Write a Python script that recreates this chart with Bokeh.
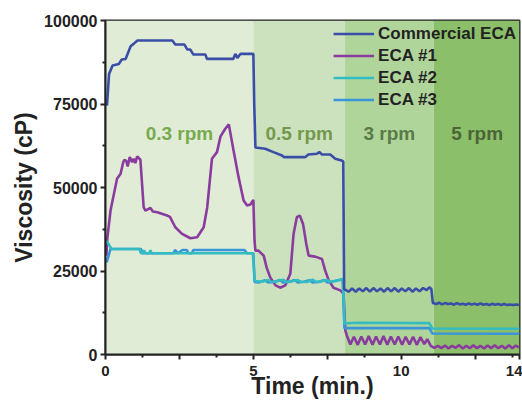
from bokeh.plotting import figure
from bokeh.models import Range1d, FixedTicker, Label
from bokeh.embed import file_html
from bokeh.resources import INLINE

# ---------------- data ----------------
band_left = [0, 5, 8.1, 11.1]
band_right = [5, 8.1, 11.1, 14]
rpm_labels = ["0.3 rpm", "0.5 rpm", "3 rpm", "5 rpm"]
rpm_label_x = [2.5, 6.55, 9.6, 12.57]
rpm_label_y = [66200, 66200, 66200, 66200]

series_names = ["Commercial ECA", "ECA #1", "ECA #2", "ECA #3"]

com_x_a = [0.05, 0.12, 0.24, 0.45, 0.55, 0.68, 0.85, 0.95, 1.08, 2.26, 2.36, 2.67, 2.77, 2.87, 2.97, 3.38, 3.43,
           4.32, 4.39, 4.46, 4.56, 5.0, 5.03, 5.07, 5.4, 5.68, 5.97, 6.03, 6.76, 6.86, 7.15, 7.23, 7.32, 7.6, 7.77,
           7.98, 8.04]
com_y_a = [74500, 84000, 86500, 87000, 88300, 88500, 92300, 93000, 94000, 94000, 92800, 92800, 91300, 91300, 89800,
           89800, 88500, 88500, 90000, 88800, 90000, 90000, 75000, 62000, 61600, 60600, 59600, 59100, 59100, 59900,
           60100, 60600, 59900, 59900, 58600, 58100, 57800]
com_x_b = [8.07, 8.10, 8.22, 8.34, 8.46, 8.58, 8.70, 8.82, 8.94, 9.06, 9.18, 9.30, 9.42, 9.54, 9.66, 9.78, 9.90,
           10.02, 10.14, 10.26, 10.38, 10.50, 10.62, 10.74, 10.86, 10.95, 11.02, 11.07]
com_y_b = [19600, 19400, 18800, 19800, 18800, 19800, 18900, 19900, 18800, 19900, 18900, 19800, 18800, 19900, 18900,
           19900, 18800, 19800, 18900, 19900, 18800, 19800, 18900, 19900, 19300, 20100, 19600, 15400]
com_x_c = [11.18, 11.28, 11.38, 11.48, 11.58, 11.68, 11.78, 11.88, 11.98, 12.08, 12.18, 12.28, 12.38, 12.48, 12.58,
           12.68, 12.78, 12.88, 12.98, 13.08, 13.18, 13.28, 13.38, 13.48, 13.58, 13.68, 13.78, 13.88, 13.98]
com_y_c = [15100, 15500, 15000, 15400, 15100, 15300, 14900, 15400, 15000, 15200, 14900, 15300, 15000, 15200, 14900,
           15300, 14900, 15100, 14800, 15200, 14900, 15100, 14800, 15100, 14800, 15000, 14800, 15000, 14800]

e1_x_a = [0.03, 0.06, 0.17, 0.39, 0.51, 0.6, 0.64, 0.7, 0.75, 0.82, 0.9, 0.95, 1.01, 1.07, 1.18, 1.29, 1.35, 1.52,
          1.6, 1.75, 2.08, 2.18, 2.36, 2.59, 2.87, 3.1, 3.32, 3.44, 3.6, 3.77, 3.89, 4.05, 4.17, 4.33, 4.5, 4.67,
          4.79, 4.9, 5.0, 5.04]
e1_y_a = [29600, 34600, 43100, 52600, 54100, 57600, 58300, 58000, 56300, 59100, 57600, 58600, 57300, 59300, 58300,
          44100, 43100, 43900, 42800, 42600, 41600, 41200, 38100, 36100, 34800, 35100, 38100, 44100, 58600, 60600,
          65300, 67600, 68900, 61100, 53100, 46100, 44600, 44900, 46300, 34000]
e1_x_b = [5.07, 5.17, 5.35, 5.45, 5.57, 5.75, 5.91, 6.08, 6.25, 6.36, 6.47, 6.57, 6.68, 6.79, 6.87, 7.09, 7.32,
          7.43, 7.55, 7.71, 7.94, 8.05, 8.11, 8.16]
e1_y_b = [31100, 31100, 29600, 26000, 23100, 20700, 20000, 20700, 24200, 36100, 41100, 41600, 39100, 33100, 29600,
          29300, 28600, 25100, 22200, 20000, 19200, 18200, 7200, 5700]
e1_x_c = [8.28, 8.40, 8.53, 8.65, 8.78, 8.90, 9.03, 9.15, 9.28, 9.40, 9.53, 9.65, 9.78, 9.90, 10.03, 10.15, 10.28,
          10.40, 10.53, 10.65, 10.78, 10.88, 11.0, 11.12]
e1_y_c = [3000, 5300, 2900, 5400, 3000, 5500, 2900, 5400, 3000, 5500, 2900, 5400, 3000, 5400, 2900, 5300, 3000,
          5300, 2900, 5200, 3100, 4600, 2600, 2000]
e1_x_d = [11.24, 11.36, 11.48, 11.6, 11.72, 11.84, 11.96, 12.08, 12.2, 12.32, 12.44, 12.56, 12.68, 12.8, 12.92,
          13.04, 13.16, 13.28, 13.4, 13.52, 13.64, 13.76, 13.88, 13.98]
e1_y_d = [2600, 1900, 2700, 1800, 2600, 2000, 2800, 1800, 2600, 1900, 2800, 1900, 2600, 1800, 2700, 1900, 2800,
          1900, 2600, 1800, 2800, 1900, 2700, 2100]

e2_x = [0.04, 0.2, 1.15, 1.2, 1.25, 1.3, 1.35, 1.48, 1.52, 1.56, 4.98, 5.05, 5.3, 5.5, 5.6, 5.8, 6.0, 6.1, 6.3,
        6.5, 6.6, 6.8, 7.0, 7.1, 7.3, 7.5, 7.6, 7.8, 7.95, 8.03, 8.08, 8.5, 10.95, 11.05, 14.0]
e2_y = [34000, 31600, 31600, 30300, 30300, 31200, 30300, 30300, 31200, 30300, 30300, 22000, 21800, 22300, 21700,
        21900, 22400, 21800, 21900, 22300, 21800, 21700, 22400, 21800, 21900, 22300, 21800, 22000, 22500, 22600,
        9300, 9500, 9400, 7800, 7700]

e3_x = [0.04, 0.17, 1.2, 1.25, 2.3, 2.35, 2.45, 2.6, 2.75, 2.8, 2.92, 2.97, 4.7, 4.78, 5.0, 5.04, 5.2, 5.4, 5.5,
        5.7, 5.9, 6.0, 6.2, 6.4, 6.5, 6.7, 6.9, 7.0, 7.2, 7.4, 7.5, 7.7, 7.9, 8.02, 8.08, 10.95, 11.05, 14.0]
e3_y = [27600, 31600, 31600, 30300, 30300, 31300, 30300, 31300, 31300, 30300, 30300, 31300, 31300, 30300, 30300,
        21700, 21600, 22200, 21600, 21700, 22300, 21600, 21700, 22300, 21600, 21800, 22200, 21600, 21700, 22300,
        21600, 21900, 22300, 22400, 7900, 7900, 6300, 6200]

x_ticks = [0, 2.5, 5, 7.5, 10, 12.5, 14]
x_tick_labels = {0: "0", 2.5: "", 5: "5", 7.5: "", 10: "10", 12.5: "", 14: "14"}
x_minor = [1.25, 3.75, 6.25, 8.75, 11.25, 13.75]
y_ticks = [0, 25000, 50000, 75000, 100000]
y_minor = [12500, 37500, 62500, 87500]

# ---------------- styles ----------------
FONT = "Liberation Sans"
band_colors = ["#e1ecd7", "#cce2be", "#b0d59b", "#8bbf69"]
rpm_colors = ["#78aa4e", "#74994c", "#5b7a47", "#4b6539"]
line_colors = ["#3a4ea8", "#8a3c9e", "#33bdc0", "#3a95d8"]

p = figure(width=522, height=402, output_backend="svg", toolbar_location=None,
           x_range=Range1d(0, 14), y_range=Range1d(0, 100000),
           min_border_left=105, min_border_right=3, min_border_top=20, min_border_bottom=48)
p.background_fill_color = "white"
p.border_fill_color = "white"
p.xgrid.visible = False
p.ygrid.visible = False
p.outline_line_color = "#222222"
p.outline_line_width = 2

p.quad(left=band_left, right=band_right, bottom=0, top=100000, fill_color=band_colors, line_color=None)

for txt, lx, ly, c in zip(rpm_labels, rpm_label_x, rpm_label_y, rpm_colors):
    p.add_layout(Label(x=lx, y=ly, text=txt, text_font=FONT, text_font_style="bold", text_font_size="19px",
                       text_color=c, text_align="center", text_baseline="middle"))

com_x = com_x_a + com_x_b + com_x_c
com_y = com_y_a + com_y_b + com_y_c
e1_x = e1_x_a + e1_x_b + e1_x_c + e1_x_d
e1_y = e1_y_a + e1_y_b + e1_y_c + e1_y_d

all_x = [com_x, e1_x, e2_x, e3_x]
all_y = [com_y, e1_y, e2_y, e3_y]
for i in [1, 3, 2, 0]:
    p.line(all_x[i], all_y[i], line_color=line_colors[i], line_width=2.6, legend_label=series_names[i])

p.legend.items = [it for n in series_names for it in p.legend.items if it.label.value == n]
lg = p.legend[0]
lg.location = "top_right"
lg.background_fill_alpha = 0
lg.border_line_alpha = 0
lg.label_text_font = FONT
lg.label_text_font_style = "bold"
lg.label_text_font_size = "17px"
lg.label_text_color = "#222222"
lg.glyph_width = 41
lg.glyph_height = 21
lg.label_height = 21
lg.label_standoff = 4
lg.spacing = 1
lg.padding = 3
lg.margin = 0

for ax in [p.xaxis[0], p.yaxis[0]]:
    ax.axis_line_width = 2
    ax.axis_line_color = "#222222"
    ax.major_tick_line_width = 2
    ax.minor_tick_line_width = 2
    ax.major_tick_line_color = "#222222"
    ax.minor_tick_line_color = "#222222"
    ax.major_tick_out = 5
    ax.major_tick_in = 0
    ax.minor_tick_out = 3
    ax.minor_tick_in = 0
    ax.major_label_text_font = FONT
    ax.major_label_text_font_style = "bold"
    ax.major_label_text_font_size = "15px"
    ax.major_label_text_color = "#222222"
    ax.axis_label_text_font = FONT
    ax.axis_label_text_font_style = "bold"
    ax.axis_label_text_font_size = "23px"
    ax.axis_label_text_color = "#222222"

p.xaxis[0].ticker = FixedTicker(ticks=x_ticks, minor_ticks=x_minor)
p.xaxis[0].major_label_overrides = x_tick_labels
p.xaxis[0].axis_label = "Time (min.)"
p.xaxis[0].major_label_standoff = 6
p.xaxis[0].axis_label_standoff = -6

p.yaxis[0].ticker = FixedTicker(ticks=y_ticks, minor_ticks=y_minor)
p.yaxis[0].major_label_overrides = {t: str(t) for t in y_ticks}
p.yaxis[0].major_label_text_font_size = "16px"
p.yaxis[0].axis_label = "Viscosity (cP)"
p.yaxis[0].major_label_standoff = 3
p.yaxis[0].axis_label_standoff = 4

open("out.html", "w").write(file_html(p, INLINE))
